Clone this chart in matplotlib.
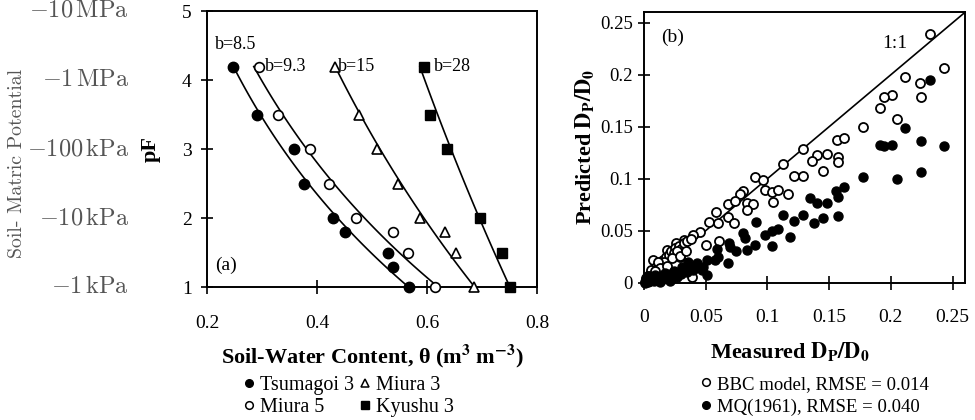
import numpy as np
import matplotlib
matplotlib.use('Agg')
import matplotlib.pyplot as plt
from matplotlib.lines import Line2D
import matplotlib.transforms as mtransforms

plt.rcParams['font.family'] = ['Liberation Serif', 'DejaVu Serif']
plt.rcParams['mathtext.fontset'] = 'stix'

# ---------------- Panel (a) data ----------------
tsumagoi_pf = [4.2, 3.5, 3.0, 2.5, 2.0, 1.8, 1.5, 1.3, 1.0]
tsumagoi_theta = [0.248, 0.290, 0.359, 0.377, 0.429, 0.450, 0.529, 0.538, 0.567]
miura5_pf = [4.2, 3.5, 3.0, 2.5, 2.0, 1.8, 1.5, 1.0]
miura5_theta = [0.294, 0.329, 0.387, 0.421, 0.470, 0.538, 0.565, 0.615]
miura3_pf = [4.2, 3.5, 3.0, 2.5, 2.0, 1.8, 1.5, 1.0]
miura3_theta = [0.433, 0.476, 0.509, 0.548, 0.587, 0.633, 0.653, 0.685]
kyushu_pf = [4.2, 3.5, 3.0, 2.0, 1.5, 1.0]
kyushu_theta = [0.594, 0.606, 0.637, 0.696, 0.736, 0.750]

fit_labels = ['b=8.5', 'b=9.3', 'b=15', 'b=28']
fit_theta_dry = [0.248, 0.285, 0.433, 0.587]   # curve end at pF 4.2
fit_theta_wet = [0.567, 0.621, 0.687, 0.751]   # curve end at pF 1.0
fit_label_x = [0.215, 0.306, 0.438, 0.612]
fit_label_y = [4.52, 4.2, 4.2, 4.2]

pot_ticks = [5, 4, 3, 2, 1]
pot_labels = [r'$-10\,\mathrm{MPa}$', r'$-1\,\mathrm{MPa}$', r'$-100\,\mathrm{kPa}$',
              r'$-10\,\mathrm{kPa}$', r'$-1\,\mathrm{kPa}$']

# ---------------- Panel (b) data ----------------
bbc_meas = [0.2314, 0.2428, 0.2117, 0.2238, 0.2009, 0.1941, 0.2244, 0.1909, 0.2049, 0.1771,
            0.1563, 0.1617, 0.1287, 0.1401, 0.1482, 0.1360, 0.1568, 0.1568, 0.1449, 0.1125,
            0.1211, 0.1287, 0.0900, 0.0963, 0.0981, 0.1036, 0.1044, 0.1089, 0.1170, 0.0805,
            0.0779, 0.0684, 0.0738, 0.0833, 0.0882, 0.0833, 0.0584, 0.0679, 0.0732, 0.0530,
            0.0603, 0.0608, 0.0503, 0.0454, 0.0400, 0.0327, 0.0260, 0.0184, 0.0211, 0.0292,
            0.0075, 0.0387,
            0.002, 0.005, 0.008, 0.010, 0.012, 0.015, 0.018, 0.020, 0.022, 0.025,
            0.028, 0.030, 0.032, 0.035, 0.038, 0.016, 0.006, 0.003, 0.011, 0.013,
            0.024, 0.027, 0.009, 0.004, 0.001, 0.007, 0.019, 0.023, 0.029, 0.034]
bbc_pred = [0.2392, 0.2063, 0.1976, 0.1922, 0.1800, 0.1784, 0.1784, 0.1682, 0.1570, 0.1496,
            0.1375, 0.1394, 0.1285, 0.1231, 0.1234, 0.1170, 0.1208, 0.1160, 0.1071, 0.1145,
            0.1026, 0.1026, 0.1011, 0.0985, 0.0895, 0.0872, 0.0776, 0.0895, 0.0850, 0.0882,
            0.0857, 0.0754, 0.0786, 0.0761, 0.0754, 0.0697, 0.0680, 0.0632, 0.0575, 0.0584,
            0.0569, 0.0402, 0.0361, 0.0488, 0.0457, 0.0409, 0.0377, 0.0313, 0.0281, 0.0249,
            0.0217, 0.0057,
            0.004, 0.008, 0.012, 0.015, 0.018, 0.022, 0.025, 0.027, 0.030, 0.033,
            0.035, 0.032, 0.038, 0.040, 0.042, 0.020, 0.012, 0.006, 0.020, 0.014,
            0.028, 0.030, 0.011, 0.003, 0.001, 0.005, 0.016, 0.024, 0.026, 0.030]
mq_meas = [0.2314, 0.2117, 0.1909, 0.1946, 0.2009, 0.2244, 0.2428, 0.1771, 0.2049, 0.2244,
           0.1617, 0.1557, 0.1568, 0.1482, 0.1401, 0.1346, 0.1125, 0.1287, 0.1211, 0.1373,
           0.1449, 0.1568, 0.0908, 0.1036, 0.0981, 0.1089, 0.1179, 0.1036, 0.0900, 0.0805,
           0.0819, 0.0833, 0.0746, 0.0692, 0.0697, 0.0594, 0.0684, 0.0576, 0.0508, 0.0481,
           0.0603, 0.0427, 0.0508, 0.0468,
           0.001, 0.003, 0.005, 0.008, 0.010, 0.012, 0.015, 0.018, 0.020, 0.022,
           0.025, 0.028, 0.030, 0.033, 0.035, 0.038, 0.040, 0.006, 0.014, 0.002,
           0.017, 0.024, 0.031, 0.036, 0.042, 0.009, 0.013, 0.021, 0.027, 0.004]
mq_pred = [0.1944, 0.1490, 0.1321, 0.1314, 0.1321, 0.1362, 0.1314, 0.1011, 0.1001, 0.1064,
           0.0915, 0.0882, 0.0824, 0.0767, 0.0761, 0.0815, 0.0649, 0.0649, 0.0591, 0.0569,
           0.0623, 0.0642, 0.0579, 0.0495, 0.0457, 0.0511, 0.0441, 0.0351, 0.0361, 0.0479,
           0.0425, 0.0313, 0.0306, 0.0377, 0.0339, 0.0320, 0.0185, 0.0217, 0.0217, 0.0153,
           0.0249, 0.0185, 0.0073, 0.0121,
           0.000, 0.001, 0.002, 0.002, 0.003, 0.004, 0.003, 0.005, 0.006, 0.004,
           0.007, 0.009, 0.008, 0.012, 0.010, 0.014, 0.012, 0.004, 0.006, 0.003,
           0.009, 0.011, 0.015, 0.020, 0.016, 0.007, 0.001, 0.002, 0.005, 0.006]

ticks_b = [0, 0.05, 0.1, 0.15, 0.2, 0.25]
ticklabels_b = ['0', '0.05', '0.1', '0.15', '0.2', '0.25']

W, H = 975, 420
fig = plt.figure(figsize=(9.75, 4.2), dpi=100)

def frac(l, t, r, b):
    return [l / W, 1 - b / H, (r - l) / W, (b - t) / H]

axa = fig.add_axes(frac(207, 11.3, 537, 287.3))
axb = fig.add_axes(frac(644, 12.3, 965, 282.6))

# ---------------- Panel (a) ----------------
ms = 7.5
axa.plot(tsumagoi_theta, tsumagoi_pf, 'o', color='black', ms=ms, zorder=3, clip_on=False)
axa.plot(miura5_theta, miura5_pf, 'o', mfc='white', mec='black', mew=1.2, ms=ms - 0.5, zorder=3, clip_on=False)
axa.plot(miura3_theta, miura3_pf, '^', mfc='white', mec='black', mew=1.2, ms=ms - 0.5, zorder=3, clip_on=False)
axa.plot(kyushu_theta, kyushu_pf, 's', color='black', ms=ms - 0.5, zorder=3, clip_on=False)

for lab, td, tw, lx, ly in zip(fit_labels, fit_theta_dry, fit_theta_wet, fit_label_x, fit_label_y):
    th = np.linspace(td, tw, 100)
    pf = 1 + 3.2 * np.log10(tw / th) / np.log10(tw / td)
    axa.plot(th, pf, color='black', lw=1.2, zorder=2)
    axa.text(lx, ly, lab, fontsize=13, ha='left', va='center')

axa.text(0.215, 1.32, '(a)', fontsize=14, ha='left', va='center')

axa.set_xlim(0.2, 0.8)
axa.set_ylim(1, 5)
axa.set_xticks([0.2, 0.4, 0.6, 0.8])
axa.set_xticklabels(['0.2', '0.4', '0.6', '0.8'])
axa.set_yticks([1, 2, 3, 4, 5])
axa.tick_params(axis='both', direction='inout', labelsize=14, width=1.2)
axa.tick_params(axis='x', length=10, pad=15)
axa.tick_params(axis='y', length=8, pad=7)
for s in axa.spines.values():
    s.set_linewidth(1.4)

axa.set_xlabel(r'Soil-Water Content, θ (m$^{\mathbf{3}}$ m$^{\mathbf{-3}}$)', fontsize=16, fontweight='bold')
axa.xaxis.set_label_coords(0.5, (287.3 - 343) / 276)
axa.set_ylabel('pF', fontsize=16, fontweight='bold')
axa.yaxis.set_label_coords((161 - 207) / 330, 0.5)

trans = mtransforms.blended_transform_factory(fig.transFigure, axa.transData)
for yv, lab in zip(pot_ticks, pot_labels):
    axa.text(129 / W, yv, lab, transform=trans, ha='right', va='center', fontsize=17.5,
             color='#555555', math_fontfamily='cm', clip_on=False)
fig.text(17 / W, 1 - 163 / H, 'Soil- Matric Potential', rotation=90, ha='center', va='center',
         fontsize=14.3, color='#555555', family=['cmr10', 'DejaVu Serif'])

# ---------------- Panel (b) ----------------
axb.plot([0, 0.26], [0, 0.26], color='black', lw=1.2, zorder=1)
axb.plot(bbc_meas, bbc_pred, 'o', mfc='white', mec='black', mew=1.3, ms=6.5, zorder=2, clip_on=False)
axb.plot(mq_meas, mq_pred, 'o', color='black', ms=6.5, zorder=3, clip_on=False)

axb.text(0.014, 0.236, '(b)', fontsize=14, ha='left', va='center')
axb.text(0.193, 0.230, '1:1', fontsize=14, ha='left', va='center')

axb.set_xlim(0, 0.26)
axb.set_ylim(0, 0.26)
axb.set_xticks(ticks_b)
axb.set_xticklabels(ticklabels_b)
axb.set_yticks(ticks_b)
axb.set_yticklabels(ticklabels_b)
axb.tick_params(axis='both', direction='inout', labelsize=14, width=1.2)
axb.tick_params(axis='x', length=10, pad=14)
axb.tick_params(axis='y', length=8, pad=4, labelsize=13.5)
for s in axb.spines.values():
    s.set_linewidth(1.4)

axb.set_xlabel(r'Measured $\mathbf{D_P/D_0}$', fontsize=16, fontweight='bold')
axb.xaxis.set_label_coords((790 - 644) / 321, (282.6 - 341) / 270.3)
axb.set_ylabel(r'Predicted $\mathbf{D_P/D_0}$', fontsize=16, fontweight='bold')
axb.yaxis.set_label_coords((597 - 644) / 321, 0.5)

# ---------------- Legends ----------------
h_a = [Line2D([], [], ls='none', marker='o', color='black', ms=5.5),
       Line2D([], [], ls='none', marker='o', mfc='white', mec='black', mew=1.1, ms=5.5),
       Line2D([], [], ls='none', marker='^', mfc='white', mec='black', mew=1.1, ms=5.5),
       Line2D([], [], ls='none', marker='s', color='black', ms=5.5)]
l_a = ['Tsumagoi 3', 'Miura 5', 'Miura 3', 'Kyushu 3']
fig.legend(h_a, l_a, ncol=2, loc='upper left', bbox_to_anchor=(243 / W, 1 - 376 / H),
           frameon=False, fontsize=14.5, handlelength=0.6, handletextpad=0.25,
           columnspacing=0.25, labelspacing=0.12, borderpad=0, borderaxespad=0)

h_b = [Line2D([], [], ls='none', marker='o', mfc='white', mec='black', mew=1.1, ms=5.5),
       Line2D([], [], ls='none', marker='o', color='black', ms=5.5)]
l_b = ['BBC model, RMSE = 0.014', 'MQ(1961), RMSE = 0.040']
fig.legend(h_b, l_b, ncol=1, loc='upper left', bbox_to_anchor=(700 / W, 1 - 375.5 / H),
           frameon=False, fontsize=13.5, handlelength=0.6, handletextpad=0.3,
           labelspacing=0.3, borderpad=0, borderaxespad=0)

fig.savefig('out.png', dpi=100)
